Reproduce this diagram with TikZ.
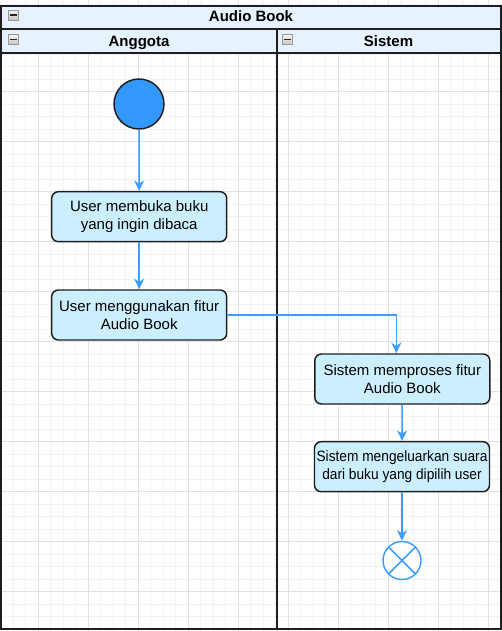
\documentclass[tikz,border=0pt]{standalone}
\usepackage{fontspec}
\setmainfont{Liberation Sans}
\usepackage{graphicx}
\usetikzlibrary{arrows.meta,calc}

\definecolor{hdr}{RGB}{230,242,255}
\definecolor{boxfill}{RGB}{204,239,255}
\definecolor{flow}{RGB}{64,158,255}
\definecolor{startfill}{RGB}{51,153,255}
\definecolor{gridfine}{RGB}{243,243,243}
\definecolor{gridmajor}{RGB}{225,225,225}
\definecolor{frame}{RGB}{30,30,30}

\begin{document}
\begin{tikzpicture}[x=0.75pt,y=-0.75pt,
  actbox/.style={draw=frame, line width=1.1pt, fill=boxfill, rounded corners=5pt,
    minimum width=131.25pt, minimum height=37.5pt, align=center, inner sep=0pt,
    font=\fontsize{11.25}{13.7}\selectfont},
  startnode/.style={circle, draw=frame, line width=1.1pt, fill=startfill, minimum size=37.5pt, inner sep=0pt},
  endnode/.style={circle, draw=flow, line width=1.1pt, fill=white, minimum size=28.5pt, inner sep=0pt},
  flowline/.style={draw=flow, line width=1.1pt, -{Stealth[length=8pt,width=7.5pt,inset=2.5pt]}},
  crossline/.style={draw=flow, line width=1.1pt},
  finegrid/.style={draw=gridfine, line width=0.6pt},
  majorgrid/.style={draw=gridmajor, line width=0.75pt},
  frameline/.style={draw=frame, line width=1.5pt},
  hdrtext/.style={font=\fontsize{11.25}{13.5}\selectfont\bfseries, inner sep=0pt, anchor=base},
  minusbox/.style={draw=gray!80, line width=0.4pt, top color=gray!8, bottom color=gray!45,
    minimum size=7.5pt, inner sep=0pt,
    path picture={\draw[line width=1.1pt, black!85] ([xshift=1.4pt]path picture bounding box.west) -- ([xshift=-1.4pt]path picture bounding box.east);}}
]
\useasboundingbox (0,0) rectangle (502,631);

% grid
\foreach \i in {0,...,40} \draw[finegrid] ({0.8+12.5*\i},0) -- ({0.8+12.5*\i},631);
\foreach \j in {0,...,50} \draw[finegrid] (0,{4.2+12.5*\j}) -- (502,{4.2+12.5*\j});
\foreach \i in {0,...,9} \draw[majorgrid] ({38.3+50*\i},0) -- ({38.3+50*\i},631);
\foreach \j in {0,...,11} \draw[majorgrid] (0,{41.7+50*\j}) -- (502,{41.7+50*\j});

% pool and lanes
\draw[frameline, fill=hdr] (1,6) rectangle (500.5,28.7);
\draw[frameline, fill=hdr] (1,28.7) rectangle (277,52.7);
\draw[frameline, fill=hdr] (277,28.7) rectangle (500.5,52.7);
\draw[frameline] (1,6) rectangle (500.5,629.3);
\draw[frameline] (277,28.7) -- (277,629.3);

\node[hdrtext] (title) at (251,22) {Audio Book};
\node[hdrtext] (laneA) at (139,46.5) {Anggota};
\node[hdrtext] (laneS) at (388.5,46.5) {Sistem};
\node[minusbox] (ic1) at (13.5,15) {};
\node[minusbox] (ic2) at (13.5,39.5) {};
\node[minusbox] (ic3) at (287.5,39.5) {};

% activity nodes
\node[startnode] (start) at (139,104) {};
\node[actbox] (b1) at (139.2,216.7) {User membuka buku\\yang ingin dibaca};
\node[actbox] (b2) at (139.2,315) {User menggunakan fitur\\Audio Book};
\node[actbox] (b3) at (402.3,379) {Sistem memproses fitur\\Audio Book};
\node[actbox] (b4) at (402,466.7) {\scalebox{0.915}[1]{Sistem mengeluarkan suara}\\\scalebox{0.915}[1]{dari buku yang dipilih user}};
\node[endnode] (end) at (402,560.5) {};
\draw[crossline] (end.45) -- (end.225);
\draw[crossline] (end.135) -- (end.315);

% flows
\draw[flowline] (start) -- (b1);
\draw[flowline] (b1) -- (b2);
\draw[flowline] (b2.east) -| ([xshift=-4.5pt]b3.north);
\draw[flowline] (b3) -- (b4);
\draw[flowline] (b4) -- (end);
\end{tikzpicture}
\end{document}
